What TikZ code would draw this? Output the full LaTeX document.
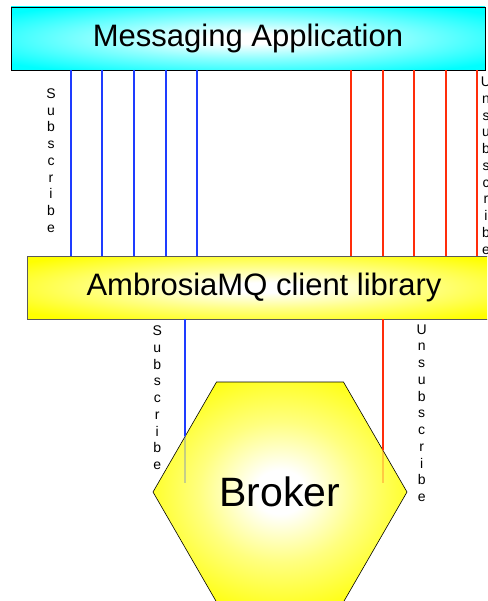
\documentclass[tikz,border=0pt]{standalone}
\usepackage{fontspec}
\setmainfont{Liberation Sans}
\usetikzlibrary{shapes.geometric}

\definecolor{subblue}{RGB}{30,60,255}
\definecolor{unsred}{RGB}{255,45,10}
\definecolor{appcyan}{RGB}{0,255,255}
\definecolor{libyellow}{RGB}{255,255,0}

% glowing fills: white centre fading out to the box colour
\pgfdeclareradialshading{appglow}{\pgfpoint{0bp}{0bp}}{color(0bp)=(white); color(4bp)=(white); color(16bp)=(appcyan!45!white); color(32bp)=(appcyan); color(50bp)=(appcyan)}
\pgfdeclareradialshading{libglow}{\pgfpoint{0bp}{0bp}}{color(0bp)=(white); color(4bp)=(white); color(16bp)=(libyellow!45!white); color(32bp)=(libyellow); color(50bp)=(libyellow)}
\pgfdeclareradialshading{brokerglow}{\pgfpoint{0bp}{0bp}}{color(0bp)=(white); color(5bp)=(white); color(16bp)=(libyellow!50!white); color(30bp)=(libyellow); color(50bp)=(libyellow)}

\tikzset{
  layerbox/.style={rectangle, inner sep=0pt, outer sep=0pt, line width=0.8pt},
  subline/.style={draw=subblue, line width=1.8pt},
  unsline/.style={draw=unsred, line width=1.8pt},
  vlabel/.style={inner sep=0pt, anchor=north, align=center,
                 font=\fontsize{14}{16.75}\selectfont},
}

\begin{document}
\begin{tikzpicture}[x=1pt, y=-1pt]
  \useasboundingbox (0,0) rectangle (487,601);
  \clip (0,0) rectangle (487,601);
  \fill[white] (0,0) rectangle (487,601);

  % the two software layers
  \node[layerbox, draw=black, shading=appglow, minimum width=474pt, minimum height=63pt,
        font=\fontsize{31}{37}\selectfont] (app) at (248,38.5) {Messaging Application};
  \node[layerbox, draw=black!65, shading=libglow, minimum width=474pt, minimum height=63pt,
        font=\fontsize{31}{37}\selectfont] (lib) at (264,287.5) {AmbrosiaMQ client library};

  % the broker
  \node[regular polygon, regular polygon sides=6, minimum size=254pt, inner sep=0pt,
        draw=black, line width=0.6pt, shading=brokerglow,
        font=\fontsize{41}{48}\selectfont] (broker) at (280,492) {Broker};

  % subscribe calls from the application to the library
  \foreach \x in {71,102.3,134,165.7,197.3}
    \draw[subline] (\x,0 |- app.south) -- (\x,0 |- lib.north);
  % unsubscribe calls from the application to the library
  \foreach \x in {351,382.7,414,445.7,476.7}
    \draw[unsline] (\x,0 |- app.south) -- (\x,0 |- lib.north);

  % library to broker
  \coordinate (subIn) at (185,436);
  \coordinate (subEnd) at (185,483);
  \coordinate (unsIn) at (382.7,449.5);
  \coordinate (unsEnd) at (382.7,483);
  \draw[subline] (subIn |- lib.south) -- (subIn);
  \draw[subline, opacity=0.25] (subIn) -- (subEnd);
  \draw[unsline] (unsIn |- lib.south) -- (unsIn);
  \draw[unsline, opacity=0.25] (unsIn) -- (unsEnd);

  % vertical labels
  \node[vlabel] (subTop) at (51,88.3) {S\\u\\b\\s\\c\\r\\i\\b\\e};
  \node[vlabel] (unsTop) at (486,76.8) {U\\n\\s\\u\\b\\s\\c\\r\\i\\b\\e};
  \node[vlabel] (subLow) at (157.3,325.7) {S\\u\\b\\s\\c\\r\\i\\b\\e};
  \node[vlabel] (unsLow) at (421.7,324.3) {U\\n\\s\\u\\b\\s\\c\\r\\i\\b\\e};
\end{tikzpicture}
\end{document}
